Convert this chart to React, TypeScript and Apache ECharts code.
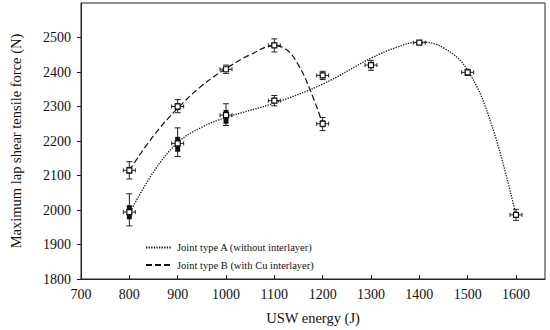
import React, { useEffect, useRef } from "react";
import * as echarts from "echarts";

const energies = [800, 900, 1000, 1100, 1200, 1300, 1400, 1500, 1600];
const energiesB = [800, 900, 1000, 1100, 1200];

// Type A measured values and error ranges
const valuesA = [1994, 2193, 2275, 2317, 2390, 2420, 2485, 2399, 1986];
const errLowA = [1954, 2155, 2245, 2302, 2378, 2405, 2482, 2390, 1970];
const errHighA = [2047, 2238, 2308, 2332, 2402, 2433, 2488, 2408, 2002];
const boxLowA = [1973, 2169, 2250, 2310, 2383, 2412, 2483, 2394, 1978];
const boxHighA = [2014, 2212, 2290, 2325, 2397, 2428, 2487, 2404, 1994];

// Type B measured values and error ranges
const valuesB = [2115, 2300, 2408, 2477, 2250];
const errLowB = [2090, 2282, 2396, 2458, 2230];
const errHighB = [2140, 2320, 2420, 2496, 2268];
const boxLowB = [2105, 2290, 2402, 2470, 2240];
const boxHighB = [2125, 2310, 2414, 2485, 2260];

// Trend curves
const trendAx = [800, 850, 900, 950, 1000, 1100, 1200, 1300, 1350, 1400, 1450, 1500, 1550, 1600];
const trendAy = [1990, 2110, 2195, 2240, 2268, 2310, 2365, 2440, 2470, 2487, 2470, 2405, 2245, 1985];
const trendBx = [800, 850, 900, 950, 1000, 1050, 1100, 1125, 1150, 1175, 1200];
const trendBy = [2115, 2215, 2295, 2360, 2410, 2450, 2476, 2465, 2420, 2345, 2250];

const xTicks = { min: 700, max: 1660, interval: 100 };
const yTicks = { min: 1800, max: 2600, interval: 100 };

const serif = "Liberation Serif";

function makeErrorData(xs: number[], v: number[], el: number[], eh: number[], bl: number[], bh: number[]) {
  return xs.map((x, i) => [x, v[i], el[i], eh[i], bl[i], bh[i]]);
}

function renderErr(params: any, api: any) {
  const x = api.value(0);
  const p = api.coord([x, api.value(1)]);
  const lo = api.coord([x, api.value(2)]);
  const hi = api.coord([x, api.value(3)]);
  const bl = api.coord([x, api.value(4)]);
  const bh = api.coord([x, api.value(5)]);
  const cap = 3;
  const ls = { stroke: "#222", lineWidth: 1 };
  return {
    type: "group",
    children: [
      { type: "line", shape: { x1: p[0], y1: hi[1], x2: p[0], y2: lo[1] }, style: ls },
      { type: "line", shape: { x1: p[0] - cap, y1: hi[1], x2: p[0] + cap, y2: hi[1] }, style: ls },
      { type: "line", shape: { x1: p[0] - cap, y1: lo[1], x2: p[0] + cap, y2: lo[1] }, style: ls },
      { type: "line", shape: { x1: p[0] - 6, y1: p[1], x2: p[0] + 6, y2: p[1] }, style: ls },
      { type: "line", shape: { x1: p[0] - 6, y1: p[1] - 2, x2: p[0] - 6, y2: p[1] + 2 }, style: ls },
      { type: "line", shape: { x1: p[0] + 6, y1: p[1] - 2, x2: p[0] + 6, y2: p[1] + 2 }, style: ls },
      { type: "rect", shape: { x: p[0] - 2.5, y: bh[1], width: 5, height: bl[1] - bh[1] }, style: { fill: "#111" } },
      { type: "rect", shape: { x: p[0] - 2.5, y: p[1] - 2.5, width: 5, height: 5 }, style: { fill: "#fff", stroke: "#111", lineWidth: 1.2 } },
    ],
  };
}

export default function App() {
  const ref = useRef<HTMLDivElement>(null);
  useEffect(() => {
    if (!ref.current) return;
    const chart = echarts.init(ref.current, null, { renderer: "svg" });
    chart.setOption({
      animation: false,
      backgroundColor: "#fff",
      textStyle: { fontFamily: serif },
      grid: { left: 74, right: 5, top: 3, bottom: 48, show: true, borderColor: "#222", borderWidth: 1 },
      legend: {
        orient: "vertical",
        left: 140,
        top: 237,
        itemWidth: 26,
        itemHeight: 10,
        itemGap: 6.5,
        itemStyle: { opacity: 0 },
        textStyle: { fontFamily: serif, fontSize: 10.5, color: "#111" },
        data: ["Joint type A (without interlayer)", "Joint type B (with Cu interlayer)"],
      },
      xAxis: {
        type: "value",
        ...xTicks,
        name: "USW energy (J)",
        nameLocation: "middle",
        nameGap: 31,
        nameTextStyle: { fontFamily: serif, fontSize: 14.5, color: "#111" },
        splitLine: { show: false },
        axisLine: { lineStyle: { color: "#222" } },
        axisTick: { inside: true, length: 4, lineStyle: { color: "#222" } },
        axisLabel: { fontFamily: serif, fontSize: 14, color: "#111", margin: 8, showMaxLabel: false, formatter: (v: number) => String(v) },
      },
      yAxis: {
        type: "value",
        ...yTicks,
        name: "Maximum lap shear tensile force (N)",
        nameLocation: "middle",
        nameGap: 58,
        nameTextStyle: { fontFamily: serif, fontSize: 14.5, color: "#111" },
        splitLine: { show: false },
        axisLine: { show: true, lineStyle: { color: "#222" } },
        axisTick: { show: true, length: 4, lineStyle: { color: "#222" } },
        axisLabel: { fontFamily: serif, fontSize: 14, color: "#111", margin: 10, showMaxLabel: false, formatter: (v: number) => String(v) },
      },
      series: [
        {
          name: "Joint type A (without interlayer)",
          type: "line",
          smooth: 0.4,
          symbol: "none",
          data: trendAx.map((x, i) => [x, trendAy[i]]),
          lineStyle: { color: "#111", width: 1.3, type: [1.3, 1.3] },
          itemStyle: { color: "#111" },
        },
        {
          name: "Joint type B (with Cu interlayer)",
          type: "line",
          smooth: 0.4,
          symbol: "none",
          data: trendBx.map((x, i) => [x, trendBy[i]]),
          lineStyle: { color: "#111", width: 1.2, type: [6, 3] },
          itemStyle: { color: "#111" },
        },
        {
          type: "custom",
          renderItem: renderErr,
          data: makeErrorData(energies, valuesA, errLowA, errHighA, boxLowA, boxHighA),
          z: 5,
        },
        {
          type: "custom",
          renderItem: renderErr,
          data: makeErrorData(energiesB, valuesB, errLowB, errHighB, boxLowB, boxHighB),
          z: 5,
        },
      ],
    });
    return () => chart.dispose();
  }, []);
  return <div ref={ref} style={{ width: 550, height: 330, position: "absolute", left: 0, top: 0 }} />;
}
